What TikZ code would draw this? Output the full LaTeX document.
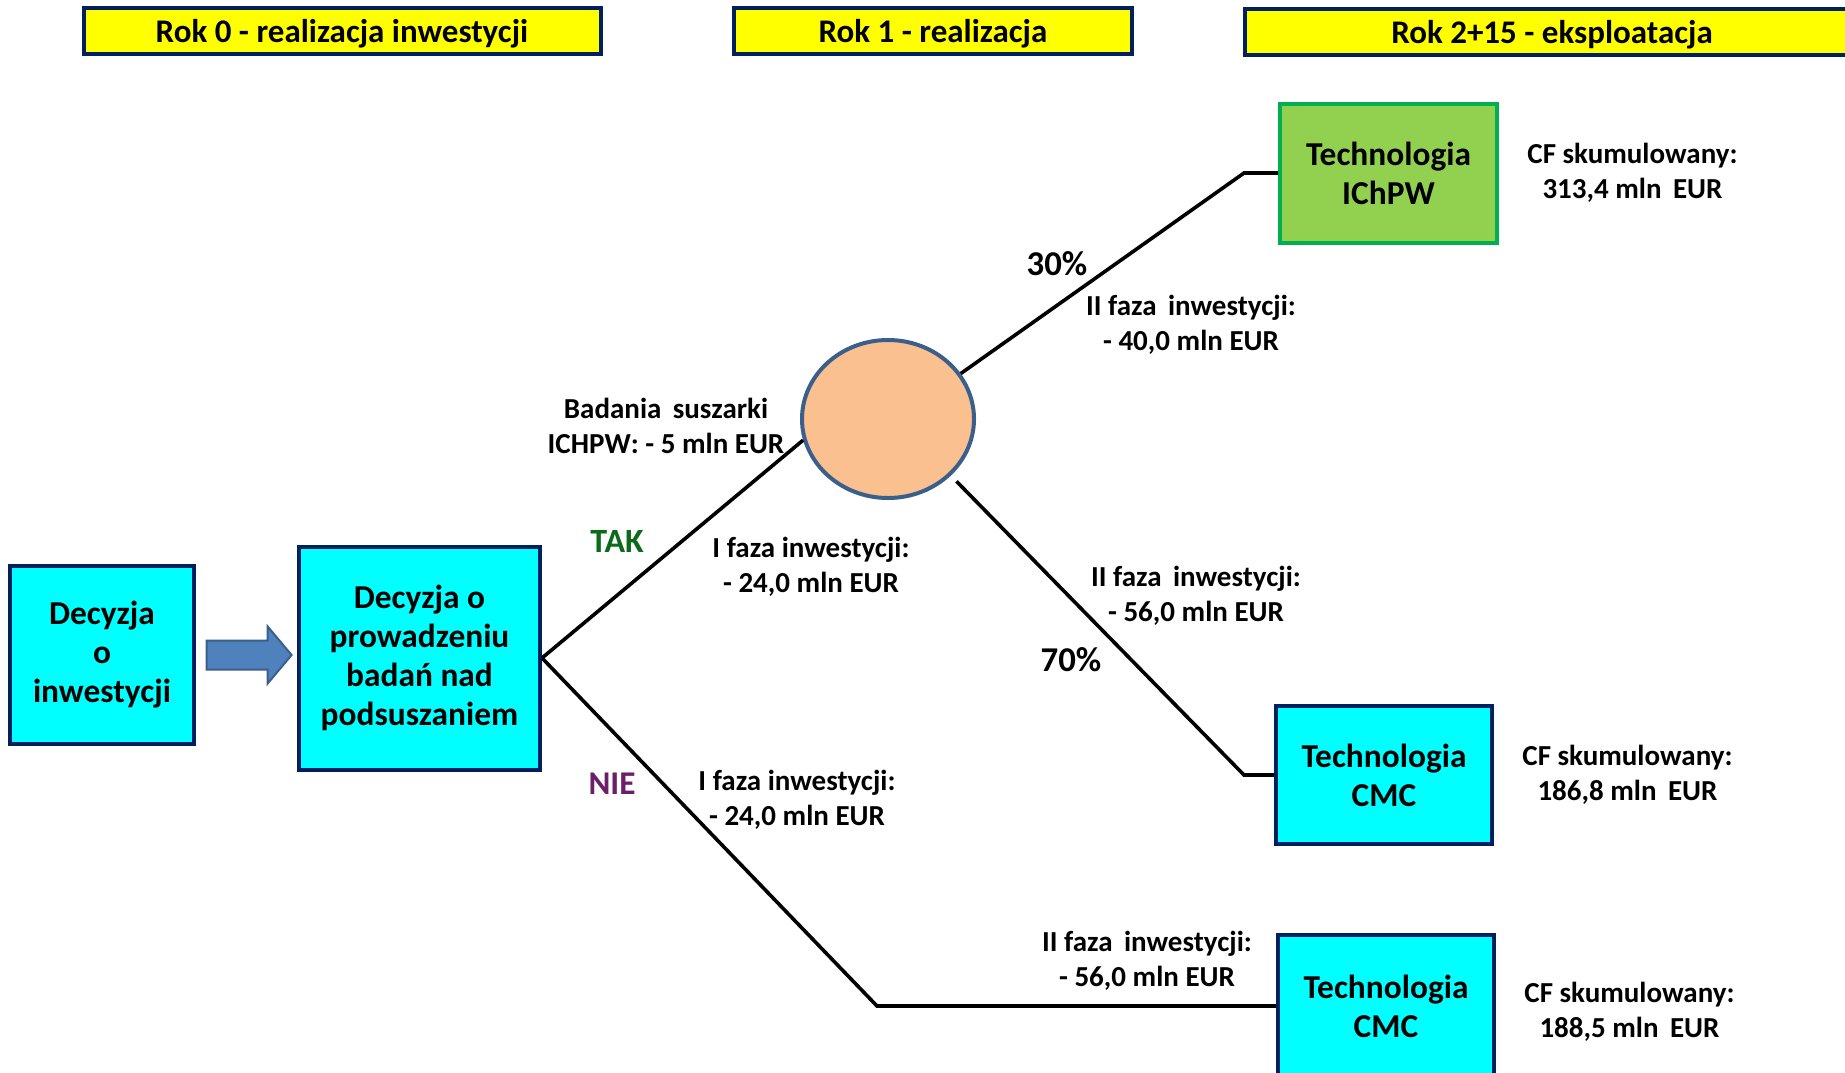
\documentclass[tikz,border=0pt]{standalone}
\usepackage{fontspec}
\setmainfont{Carlito}
\usetikzlibrary{positioning, shapes.geometric, shapes.arrows}
\definecolor{navy}{HTML}{002060}
\definecolor{aqua}{HTML}{00FFFF}
\definecolor{gold}{HTML}{FFFF00}
\definecolor{lgreen}{HTML}{92D050}
\definecolor{dgreen}{HTML}{00B050}
\definecolor{peach}{HTML}{FAC090}
\definecolor{steel}{HTML}{3A5F8B}
\definecolor{arrfill}{HTML}{4F81BD}
\definecolor{takcol}{HTML}{0B6B1B}
\definecolor{niecol}{HTML}{6B1F6B}

\begin{document}
\begin{tikzpicture}[x=0.5pt, y=-0.5pt,
  head/.style={draw=navy, line width=2pt, fill=gold, inner sep=0pt, text depth=0pt, minimum height=23pt, font=\fontsize{16.5}{19}\selectfont\bfseries},
  box/.style={draw=navy, line width=2pt, fill=aqua, align=center, inner sep=0pt, font=\fontsize{16.7}{19.5}\selectfont\bfseries},
  lbl/.style={align=center, inner sep=0pt, font=\fontsize{14.5}{17.5}\selectfont\bfseries},
  pct/.style={inner sep=0pt, font=\fontsize{17.4}{19}\selectfont\bfseries},
  ln/.style={line width=1.8pt}]
        \useasboundingbox (0,0) rectangle (1845,1072);

        \node[head, minimum width=258.5pt] (h0) at (342,31) {Rok 0 - realizacja inwestycji};
        \node[head, minimum width=199pt] (h1) at (933,30.5) {Rok 1 - realizacja};
        \node[head, minimum width=307pt] (h2) at (1552,32) {Rok 2+15 - eksploatacja};

        \node[box, minimum width=92pt, minimum height=89pt] (d0) at (102,655) {Decyzja\\o\\inwestycji};
        \node[single arrow, draw=steel, fill=arrfill, line width=1pt, inner xsep=0pt, inner ysep=6.75pt,
              minimum height=42.5pt, single arrow head extend=7pt,
              single arrow tip angle=100] (arr) at (243,655) {};
        \node[box, minimum width=120.5pt, minimum height=111.5pt] (d1) at (419.5,658) {Decyzja o\\prowadzeniu\\badań nad\\podsuszaniem};

        \node[ellipse, draw=steel, fill=peach, line width=2pt, minimum width=86pt, minimum height=79pt] (circ) at (888,419) {};

        \node[box, draw=dgreen, fill=lgreen, minimum width=108.5pt, minimum height=69.5pt] (t1) at (1388.5,173) {Technologia\\IChPW};
        \node[box, minimum width=108pt, minimum height=69pt] (t2) at (1384,775) {Technologia\\CMC};
        \node[box, minimum width=108pt, minimum height=71pt] (t3) at (1386,1006) {Technologia\\CMC};

        \node[lbl, right=14pt of t1] (cf1) {CF skumulowany:\\313,4 mln\, EUR};
        \node[lbl, right=14pt of t2] (cf2) {CF skumulowany:\\186,8 mln\, EUR};
        \node[lbl, right=14pt of t3, yshift=-3pt] (cf3) {CF skumulowany:\\188,5 mln\, EUR};

        \coordinate (c1) at (1244,173);
        \coordinate (c2) at (1244,775);
        \coordinate (c3) at (877,1006);

        \draw[ln] (d1.east) -- (circ.194);
        \draw[ln] (d1.east) -- (c3) -- (t3.west);
        \draw[ln] (circ.32) -- (c1) -- (t1.west);
        \draw[ln, shorten <=4pt] (circ.-42) -- (c2) -- (t2.west);

        \node[lbl] (b0) at (666,426) {Badania\, suszarki\\ICHPW: - 5 mln EUR};
        \node[pct, text=takcol, font=\fontsize{17}{19}\selectfont\bfseries] (tak) at (617,541) {TAK};
        \node[pct, text=niecol, font=\fontsize{16.6}{19}\selectfont\bfseries] (nie) at (612,784) {NIE};
        \node[lbl] (f1) at (811,567) {I faza inwestycji:\\- 24,0 mln EUR};
        \node[lbl] (f2) at (797,800) {I faza inwestycji:\\- 24,0 mln EUR};
        \node[pct] (p30) at (1057,264) {30\%};
        \node[pct] (p70) at (1071,660) {70\%};
        \node[lbl] (g1) at (1191,325) {II faza\, inwestycji:\\- 40,0 mln EUR};
        \node[lbl] (g2) at (1196,596) {II faza\, inwestycji:\\- 56,0 mln EUR};
        \node[lbl] (g3) at (1147,961) {II faza\, inwestycji:\\- 56,0 mln EUR};
      \end{tikzpicture}
\end{document}
